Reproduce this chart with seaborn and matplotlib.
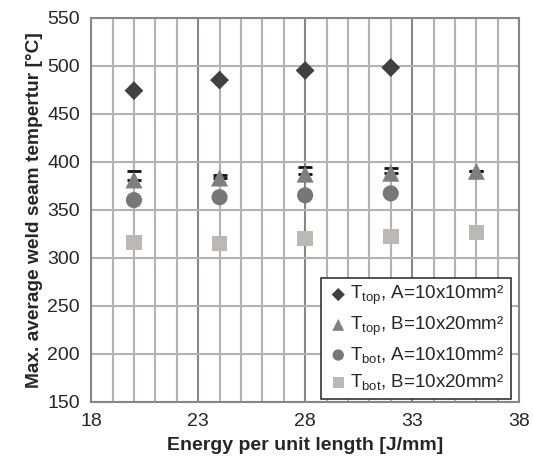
import numpy as np
import pandas as pd
import matplotlib.pyplot as plt
import seaborn as sns
from matplotlib.ticker import MultipleLocator, FixedLocator

# ===== DATA =====
x_a = [20, 24, 28, 32]
x_b = [20, 24, 28, 32, 36]

t_top_a = [474, 485, 495, 498]
t_top_b = [381, 383, 387, 388, 390]
t_top_b_err = [9, 3, 7, 5, 0]
t_bot_a = [360, 363, 365, 367]
t_bot_b = [316, 315, 320, 322, 326]

x_ticks = [18, 23, 28, 33, 38]

labels = [
    r"T$_{\mathrm{top}}$, A=10x10mm²",
    r"T$_{\mathrm{top}}$, B=10x20mm²",
    r"T$_{\mathrm{bot}}$, A=10x10mm²",
    r"T$_{\mathrm{bot}}$, B=10x20mm²",
]

# ===== STYLE =====
sns.set_style("white")
plt.rcParams["font.family"] = ["Liberation Sans", "DejaVu Sans"]
plt.rcParams["mathtext.fontset"] = "custom"
plt.rcParams["mathtext.rm"] = "Liberation Sans"
plt.rcParams["mathtext.it"] = "Liberation Sans:italic"
plt.rcParams["mathtext.bf"] = "Liberation Sans:bold"

grid_light = "#b5b1ad"
grid_dark = "#8a8682"

fig = plt.figure(figsize=(5.33, 4.63), dpi=100)
ax = fig.add_axes([0.171, 0.1324, 0.803, 0.8294])

# ===== POINTS =====
sns.scatterplot(x=x_a, y=t_top_a, marker="D", s=92, color="#404040",
                edgecolor="none", label=labels[0], ax=ax, zorder=3)
ax.errorbar(x_b, t_top_b, yerr=[np.zeros(len(t_top_b_err)), t_top_b_err],
            fmt="none", ecolor="#111111", elinewidth=1.2, capsize=5,
            capthick=2, zorder=2.5)
sns.scatterplot(x=x_b, y=t_top_b, marker="^", s=150, color="#7f7f7f",
                edgecolor="none", label=labels[1], ax=ax, zorder=3)
sns.scatterplot(x=x_a, y=t_bot_a, marker="o", s=135, color="#787676",
                edgecolor="none", label=labels[2], ax=ax, zorder=3)
sns.scatterplot(x=x_b, y=t_bot_b, marker="s", s=125, color="#bcb8b4",
                edgecolor="none", label=labels[3], ax=ax, zorder=3)

# ===== AXES / GRID =====
ax.set_xlim(18, 38)
ax.set_ylim(150, 550)
ax.xaxis.set_major_locator(FixedLocator(x_ticks))
ax.xaxis.set_minor_locator(MultipleLocator(1))
ax.yaxis.set_major_locator(MultipleLocator(50))
ax.grid(which="minor", axis="x", color=grid_light, linewidth=1.5)
ax.grid(which="major", axis="x", color=grid_dark, linewidth=1.5)
ax.grid(which="major", axis="y", color=grid_light, linewidth=1.5)
ax.set_axisbelow(True)

for side in ["left", "bottom", "top", "right"]:
    ax.spines[side].set_color(grid_dark)
    ax.spines[side].set_linewidth(1.5)
ax.tick_params(axis="both", which="major", direction="out", length=5,
               width=1.5, color=grid_dark, labelsize=14, pad=3)
ax.tick_params(axis="x", which="minor", length=0)

ax.set_xlabel("Energy per unit length [J/mm]", fontsize=14,
              fontweight="bold", labelpad=5)
ax.set_ylabel("Max. average weld seam tempertur [°C]", fontsize=13.8,
              fontweight="bold", labelpad=3)

leg = ax.legend(loc="lower right", bbox_to_anchor=(0.982, 0.008),
                fontsize=13.5, frameon=True, fancybox=False,
                handletextpad=0.1, borderpad=0.35, labelspacing=0.38,
                handlelength=1.1, borderaxespad=0.0, markerscale=0.7)
leg.get_frame().set_edgecolor("#333333")
leg.get_frame().set_linewidth(1.2)
leg.get_frame().set_alpha(1)

fig.savefig("out.png", dpi=100)
